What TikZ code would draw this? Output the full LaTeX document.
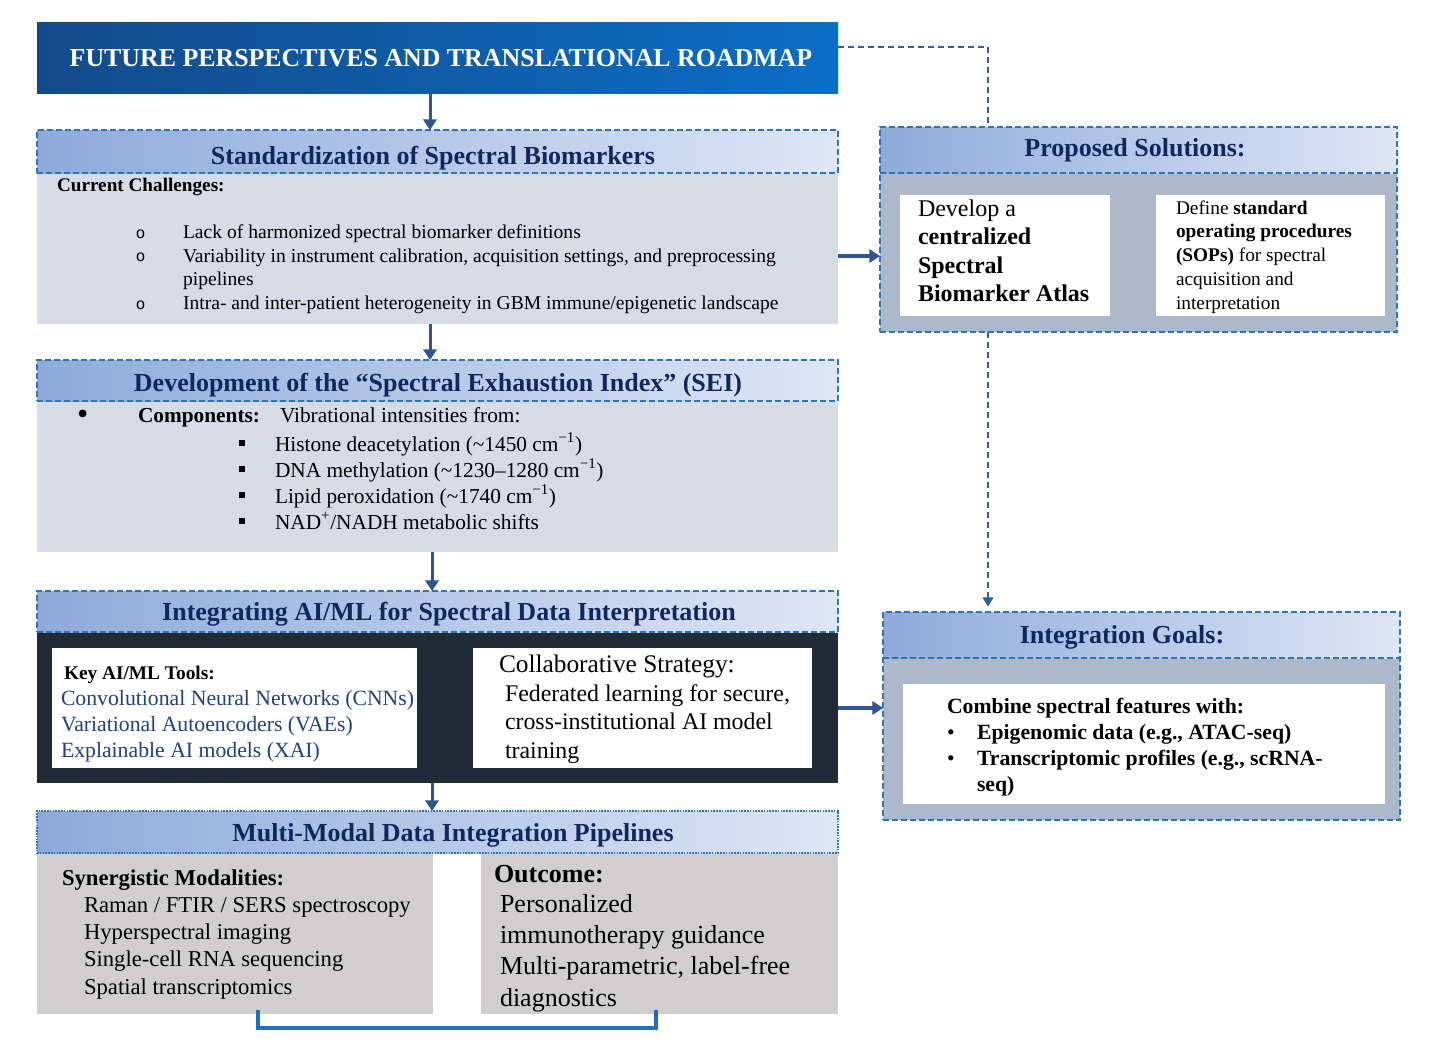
\documentclass[tikz,border=0pt]{standalone}
\usepackage{fontspec}
\setmainfont{Liberation Serif}
\newfontfamily\lsans{Liberation Sans}
\usetikzlibrary{arrows.meta,fit,shadings}
\definecolor{titleL}{HTML}{134A8A}
\definecolor{titleR}{HTML}{0A6EC6}
\definecolor{hdrL}{HTML}{8EAADB}
\definecolor{hdrR}{HTML}{DEE6F5}
\definecolor{hdrB}{HTML}{2E75B6}
\definecolor{hdrT}{HTML}{10285C}
\definecolor{bodyA}{HTML}{D6DCE5}
\definecolor{bodyB}{HTML}{ADB9CA}
\definecolor{bodyD}{HTML}{222A35}
\definecolor{bodyG}{HTML}{D0CECE}
\definecolor{arrC}{HTML}{2F5597}
\definecolor{dconC}{HTML}{2E5F9E}
\definecolor{brkC}{HTML}{1F70C1}
\definecolor{toolC}{HTML}{22417E}
\newcommand\fsz[2]{\fontsize{#1}{#2}\selectfont}
\begin{document}
\begin{tikzpicture}[x=0.75pt,y=-0.75pt,
 every node/.style={inner sep=0pt,outer sep=0pt},
 titlebox/.style={left color=titleL,right color=titleR},
 hdrfill/.style={left color=hdrL,right color=hdrR},
 hdrbox/.style={hdrfill,draw=hdrB,line width=1.5pt,dash pattern=on 4.5pt off 2.25pt},
 hdrdot/.style={hdrfill,draw=hdrB,line width=1.5pt,dash pattern=on 1.2pt off 0.9pt},
 htxt/.style={anchor=base,text=hdrT,font=\fsz{19.5}{23}\bfseries},
 dframe/.style={draw=hdrB,line width=1.5pt,dash pattern=on 4.5pt off 2.25pt},
 wbox/.style={fill=white},
 txt/.style={anchor=north west,align=left},
 lbl/.style={anchor=base west},
 flowarrow/.style={draw=arrC,line width=2.25pt,-{Triangle[width=10pt,length=8pt]}},
 dcon/.style={draw=dconC,line width=1.5pt,dash pattern=on 4.5pt off 3pt},
 sq/.style={fill=black,minimum size=4.5pt},
]
\useasboundingbox (0,0) rectangle (1430,1060);
\fill[white] (0,0) rectangle (1430,1060);

% ---------- Title ----------
\node[titlebox,fit={(37,22) (838,93)}] (title) {};
\node[anchor=base,text=white,font=\fsz{19.4}{23}\bfseries] (titletxt) at (441,66) {FUTURE PERSPECTIVES AND TRANSLATIONAL ROADMAP};

% ---------- Standardization ----------
\node[fill=bodyA,fit={(37,173) (838,324)}] (sbb) {};
\node[hdrbox,fit={(37,130) (838,173)}] (sbh) {};
\node[htxt] (sbt) at (433,164) {Standardization of Spectral Biomarkers};
\node[lbl,font=\fsz{14.4}{17}\bfseries] (cc) at (57,191) {Current Challenges:};
\node[lbl,font=\lsans\fsz{12}{15}] (o1) at (136,238) {o};
\node[lbl,font=\lsans\fsz{12}{15}] (o2) at (136,261.7) {o};
\node[lbl,font=\lsans\fsz{12}{15}] (o3) at (136,309.1) {o};
\node[txt,font=\fsz{14.7}{17.8}] (cct) at (183,224.5) {Lack of harmonized spectral biomarker definitions\\Variability in instrument calibration, acquisition settings, and preprocessing\\pipelines\\Intra- and inter-patient heterogeneity in GBM immune/epigenetic landscape};

% ---------- SEI ----------
\node[fill=bodyA,fit={(37,401) (838,552)}] (seib) {};
\node[hdrbox,fit={(37,360) (838,401)}] (seih) {};
\node[htxt] (seit) at (438,391) {Development of the “Spectral Exhaustion Index” (SEI)};
\node[lbl,font=\fsz{24}{24}] (dot1) at (77,424) {•};
\node[lbl,font=\fsz{16}{19}\bfseries] (comp) at (138,422) {Components:};
\node[lbl,font=\fsz{16}{19}] (vib) at (280,422) {Vibrational intensities from:};
\node[sq] (s1) at (242,443) {};
\node[sq] (s2) at (242,469) {};
\node[sq] (s3) at (242,495) {};
\node[sq] (s4) at (242,521) {};
\node[txt,font=\fsz{16}{19.5}] (seitems) at (275,433) {Histone deacetylation (\textasciitilde1450 cm\textsuperscript{−1})\\DNA methylation (\textasciitilde1230–1280 cm\textsuperscript{−1})\\Lipid peroxidation (\textasciitilde1740 cm\textsuperscript{−1})\\NAD\textsuperscript{+}/NADH metabolic shifts};

% ---------- AI/ML ----------
\node[fill=bodyD,fit={(37,632) (838,783)}] (aib) {};
\node[hdrbox,fit={(37,591) (838,632)}] (aih) {};
\node[htxt] (ait) at (449,620.5) {Integrating AI/ML for Spectral Data Interpretation};
\node[wbox,fit={(52,648) (417,768)}] (ail) {};
\node[wbox,fit={(473,648) (812,768)}] (air) {};
\node[lbl,font=\fsz{14.5}{17}\bfseries] (keyt) at (64,679) {Key AI/ML Tools:};
\node[txt,text=toolC,font=\fsz{16.3}{19.5}] (tools) at (61,690) {Convolutional Neural Networks (CNNs)\\Variational Autoencoders (VAEs)\\Explainable AI models (XAI)};
\node[lbl,font=\fsz{19}{22}] (colt) at (499,672) {Collaborative Strategy:};
\node[txt,font=\fsz{17.9}{21.4}] (colx) at (505,684.5) {Federated learning for secure,\\cross-institutional AI model\\training};

% ---------- Multi-modal ----------
\node[fill=bodyG,fit={(37,853) (433,1014)}] (bl) {};
\node[fill=bodyG,fit={(481,853) (838,1014)}] (br) {};
\node[hdrdot,fit={(37,811) (838,853)}] (mmh) {};
\node[htxt] (mmt) at (453,841.5) {Multi-Modal Data Integration Pipelines};
\node[lbl,font=\fsz{17}{20}\bfseries] (synt) at (62,885) {Synergistic Modalities:};
\node[txt,font=\fsz{17}{20.5}] (synx) at (84,897.3) {Raman / FTIR / SERS spectroscopy\\Hyperspectral imaging\\Single-cell RNA sequencing\\Spatial transcriptomics};
\node[lbl,font=\fsz{19.5}{23}\bfseries] (outt) at (494,882) {Outcome:};
\node[txt,font=\fsz{19.5}{23.5}] (outx) at (500,894) {Personalized\\immunotherapy guidance\\Multi-parametric, label-free\\diagnostics};

% ---------- Proposed Solutions ----------
\node[fill=bodyB,fit={(880,173) (1397,332)}] (psb) {};
\node[hdrfill,fit={(880,127) (1397,173)}] (psh) {};
\draw[dframe] (psh.south west) -- (psh.south east);
\node[dframe,fit={(880,127) (1397,332)}] (ps) {};
\node[htxt] (pst) at (1135,156.5) {Proposed Solutions:};
\node[wbox,fit={(900,195) (1110,316)}] (psl) {};
\node[wbox,fit={(1156,195) (1385,316)}] (psr) {};
\node[txt,font=\fsz{18}{21.4}] (pslt) at (918,199.5) {Develop a\\\textbf{centralized}\\\textbf{Spectral}\\\textbf{Biomarker Atlas}};
\node[txt,font=\fsz{14.5}{17.8}] (psrt) at (1176,200.5) {Define \textbf{standard}\\\textbf{operating procedures}\\\textbf{(SOPs)} for spectral\\acquisition and\\interpretation};

% ---------- Integration Goals ----------
\node[fill=bodyB,fit={(883,658) (1400,820)}] (igb) {};
\node[hdrfill,fit={(883,612) (1400,658)}] (igh) {};
\draw[dframe] (igh.south west) -- (igh.south east);
\node[dframe,fit={(883,612) (1400,820)}] (ig) {};
\node[htxt] (igt) at (1122,643) {Integration Goals:};
\node[wbox,fit={(903,684) (1385,804)}] (igw) {};
\node[lbl,font=\fsz{16.3}{19.5}\bfseries] (comb) at (947,713.5) {Combine spectral features with:};
\node[lbl,font=\fsz{16.3}{19.5}] (gd1) at (947,739.5) {•};
\node[lbl,font=\fsz{16.3}{19.5}] (gd2) at (947,765.5) {•};
\node[txt,font=\fsz{16.3}{19.5}\bfseries] (igx) at (977,724.5) {Epigenomic data (e.g., ATAC-seq)\\Transcriptomic profiles (e.g., scRNA-\\seq)};

% ---------- connectors ----------
\coordinate (ax1) at (430,0);
\coordinate (ax2) at (432,0);
\coordinate (ay1) at (0,256);
\coordinate (ay2) at (0,708);
\coordinate (vx) at (988,47);
\coordinate (brL) at (258,1028);
\coordinate (brR) at (656,1028);

\draw[flowarrow] (title.south -| ax1) -- (sbh.north -| ax1);
\draw[flowarrow] (sbb.south -| ax1) -- (seih.north -| ax1);
\draw[flowarrow] (seib.south -| ax2) -- (aih.north -| ax2);
\draw[flowarrow] (aib.south -| ax2) -- (mmh.north -| ax2);
\draw[flowarrow,line width=3pt] (sbb.east |- ay1) -- (ps.west |- ay1);
\draw[flowarrow,line width=3pt] (aib.east |- ay2) -- (ig.west |- ay2);

\draw[dcon] (title.east |- vx) -- (vx) -- (vx |- ps.north);
\draw[dcon,-{Triangle[width=8pt,length=7pt]}] (vx |- ps.south) -- ([yshift=4pt]vx |- ig.north);

\draw[draw=brkC,line width=2.5pt] ([yshift=3pt]bl.south -| brL) -- (brL) -- (brR) -- ([yshift=3pt]br.south -| brR);
\end{tikzpicture}
\end{document}
